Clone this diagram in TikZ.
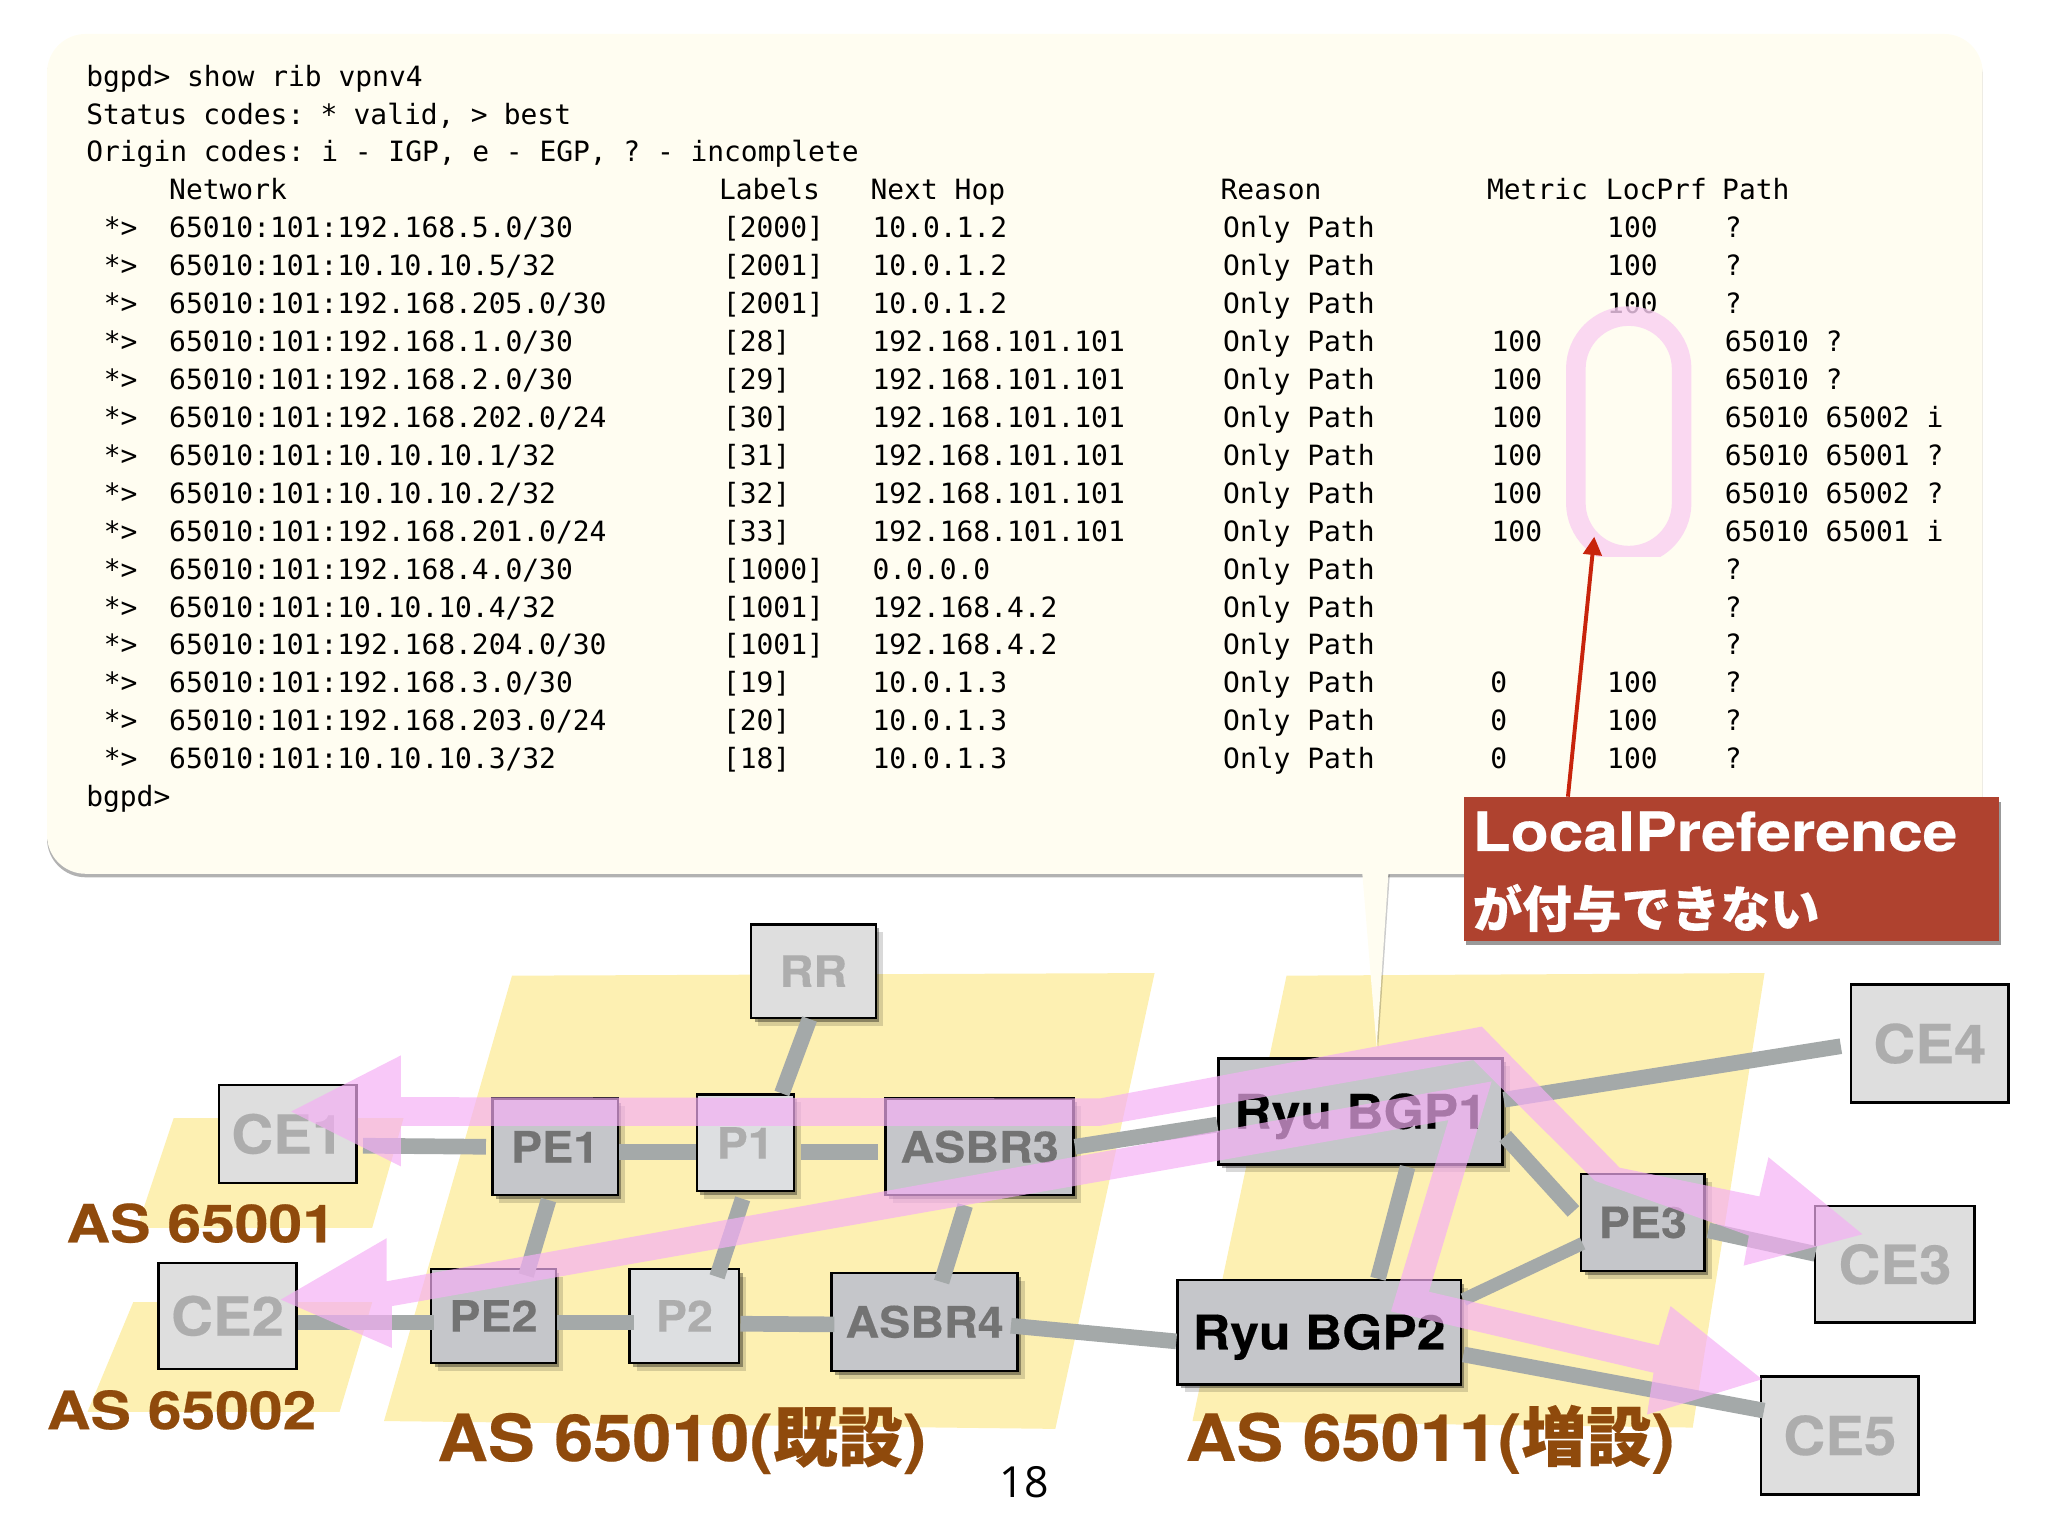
\documentclass[tikz,border=0pt]{standalone}
\usepackage{fontspec}
\usetikzlibrary{calc,shadows,arrows.meta}

\newfontfamily\termfont{DejaVu Sans Mono}
\newfontfamily\boxfont[FakeStretch=1.08,FakeBold=0.3]{TeX Gyre Heros}
\newfontfamily\asfont[FakeStretch=1.08,FakeBold=0.3]{TeX Gyre Heros}
\newfontfamily\notefont[FakeStretch=1.15,FakeBold=0.4]{TeX Gyre Heros}
\newfontfamily\cjkfont[FakeBold=0.3]{Noto Sans CJK JP}
\newfontfamily\pagefont{Open Sans}
\newcommand{\gu}{0.013061cm}

\definecolor{balloonfill}{HTML}{FFFDF1}
\definecolor{aszone}{HTML}{FDF0B2}
\definecolor{linkgrey}{HTML}{A4A9A9}
\definecolor{routerdark}{HTML}{C5C6CA}
\definecolor{routerlight}{HTML}{DDDFE1}
\definecolor{customerfill}{HTML}{DEDEDE}
\definecolor{flowpink}{HTML}{F5AFF5}
\definecolor{ringpink}{HTML}{F9CFF2}
\definecolor{asbrown}{HTML}{8F4A0C}
\definecolor{notered}{HTML}{AF422F}
\definecolor{arrowred}{HTML}{C8240C}

\tikzstyle{softshadow} = [drop shadow={shadow xshift=2pt, shadow yshift=-2.2pt, opacity=0.15, fill=black}, drop shadow={shadow xshift=1pt, shadow yshift=-1.1pt, opacity=0.35, fill=black}]
\tikzstyle{balloonshadow} = [drop shadow={shadow xshift=0pt, shadow yshift=-1pt, opacity=0.3, fill=black}]
\tikzstyle{router} = [rectangle, draw=black, line width=0.7pt, inner sep=0pt, fill=routerdark, text=black!55, softshadow, font=\boxfont\bfseries\fontsize{12.3}{14}\selectfont]
\tikzstyle{corelight} = [router, fill=routerlight, text=black!32]
\tikzstyle{ryu} = [router, text=black, text height=9.8pt, text depth=0pt, font=\boxfont\bfseries\fontsize{13.6}{16}\selectfont]
\tikzstyle{customer} = [rectangle, draw=black, line width=0.7pt, inner sep=0pt, fill=customerfill, text=black!32, font=\boxfont\bfseries\fontsize{15.3}{17}\selectfont]
\tikzstyle{netlink} = [linkgrey, line width=12*\gu]
\tikzstyle{zone} = [fill=aszone, draw=none]
\tikzstyle{flow} = [fill=flowpink, fill opacity=0.685, draw=none]
\tikzstyle{termline} = [anchor=base west, inner sep=0pt, font=\termfont\fontsize{7.95}{10}\selectfont]
\tikzstyle{aslabel} = [inner sep=0pt, text=asbrown, font=\notefont\bfseries\fontsize{15}{17}\selectfont]
\tikzstyle{aslarge} = [aslabel, font=\asfont\bfseries\fontsize{18.5}{20}\selectfont]
\tikzstyle{noteline} = [anchor=base west, inner sep=0pt, text=white]
\tikzset{boxsize/.style n args={2}{minimum width=#1*\gu, minimum height=#2*\gu}}

\begin{document}
\begin{tikzpicture}[x=\gu, y=-\gu]
        \useasboundingbox (0,0) rectangle (1568,1176);

        % AS areas
        \fill[zone] (133,856) -- (309,856) -- (285,940) -- (105,940) -- cycle;
        \fill[zone] (102,997) -- (285,997) -- (260,1081) -- (67,1081) -- cycle;
        \fill[zone] (392,747) -- (884,745) -- (808,1094) -- (294,1088) -- cycle;
        \fill[zone] (985,747) -- (1351,745) -- (1296,1093) -- (913,1088) -- cycle;

        % Speech balloon with the rib output
        \node (balloon) at (777,347.5) [rectangle, rounded corners=11pt, fill=balloonfill, balloonshadow, boxsize={1482}{643}] {};
        \coordinate (tailtip) at (1054,802);
        \fill[balloonfill, drop shadow={shadow xshift=0.4pt, shadow yshift=-0.4pt, opacity=0.2, fill=black}] ($(balloon.south)+(266,-1)$) -- (tailtip) -- ($(balloon.south)+(286,-1)$) -- cycle;

        \node (prompttop) at (65.5,66) [termline] {bgpd> show rib vpnv4};
        \node (statusline) at (65.5,95) [termline] {\frenchspacing\spaceskip=4.62pt Status codes: * valid, > best};
        \node (originline) at (65.5,124) [termline] {\frenchspacing\spaceskip=4.75pt Origin codes: i - IGP, e - EGP, ? - incomplete};
        \node (headnet) at (129,153) [termline] {Network};
        \node (headlabel) at (550,153) [termline] {Labels};
        \node (headhop) at (666,153) [termline] {Next Hop};
        \node (headreason) at (934,153) [termline] {Reason};
        \node (headmetric) at (1138,153) [termline] {Metric};
        \node (headpref) at (1229,153) [termline] {LocPrf};
        \node (headpath) at (1318,153) [termline] {Path};
        \foreach \i/\net/\lab/\hop/\pth in {
                4/{65010:101:192.168.5.0/30}/{[2000]}/10.0.1.2/?,
                5/{65010:101:10.10.10.5/32}/{[2001]}/10.0.1.2/?,
                6/{65010:101:192.168.205.0/30}/{[2001]}/10.0.1.2/?,
                7/{65010:101:192.168.1.0/30}/{[28]}/192.168.101.101/65010 ?,
                8/{65010:101:192.168.2.0/30}/{[29]}/192.168.101.101/65010 ?,
                9/{65010:101:192.168.202.0/24}/{[30]}/192.168.101.101/65010 65002 i,
                10/{65010:101:10.10.10.1/32}/{[31]}/192.168.101.101/65010 65001 ?,
                11/{65010:101:10.10.10.2/32}/{[32]}/192.168.101.101/65010 65002 ?,
                12/{65010:101:192.168.201.0/24}/{[33]}/192.168.101.101/65010 65001 i,
                13/{65010:101:192.168.4.0/30}/{[1000]}/0.0.0.0/?,
                14/{65010:101:10.10.10.4/32}/{[1001]}/192.168.4.2/?,
                15/{65010:101:192.168.204.0/30}/{[1001]}/192.168.4.2/?,
                16/{65010:101:192.168.3.0/30}/{[19]}/10.0.1.3/?,
                17/{65010:101:192.168.203.0/24}/{[20]}/10.0.1.3/?,
                18/{65010:101:10.10.10.3/32}/{[18]}/10.0.1.3/?} {
                \node (flag\i) at (79,{66+29.03*\i}) [termline] {*>};
                \node (net\i) at (129,{66+29.03*\i}) [termline] {\net};
                \node (lab\i) at (553,{66+29.03*\i}) [termline] {\lab};
                \node (hop\i) at (667.5,{66+29.03*\i}) [termline] {\hop};
                \node (why\i) at (936,{66+29.03*\i}) [termline] {Only Path};
                \node (path\i) at (1320,{66+29.03*\i}) [termline] {\pth};
        }
        \foreach \i in {7,...,12} {
                \node (metric\i) at (1141.5,{66+29.03*\i}) [termline] {100};
        }
        \foreach \i in {16,17,18} {
                \node (metric\i) at (1140.5,{66+29.03*\i}) [termline] {0};
        }
        \foreach \i in {4,5,6,16,17,18} {
                \node (pref\i) at (1230,{66+29.03*\i}) [termline] {100};
        }
        \node (promptend) at (65.5,617.5) [termline] {bgpd>};

        % Routers
        \node (rr) at (622.8,743.5) [corelight, fill=customerfill, boxsize={95.6}{71.5}] {RR};
        \node (pe1) at (425,878) [router, boxsize={96}{73.7}] {PE1};
        \node (p1) at (570.6,875) [corelight, boxsize={74.2}{73.8}] {P1};
        \node (asbr3) at (750,878) [router, boxsize={144}{74}] {ASBR3};
        \node (pe2) at (377.8,1007.5) [router, boxsize={95.5}{72}] {PE2};
        \node (p2) at (524,1007.5) [corelight, boxsize={84}{72}] {P2};
        \node (asbr4) at (707.9,1012) [router, boxsize={142.3}{75}] {ASBR4};
        \node (pe3) at (1257.8,936) [router, boxsize={94.4}{74}] {PE3};
        \node (bgp1) at (1041.7,851) [ryu, boxsize={217.4}{81}] {Ryu BGP1};
        \node (bgp2) at (1010,1020) [ryu, boxsize={217}{80}] {Ryu BGP2};
        \node (ce1) at (220.3,868.2) [customer, boxsize={105.4}{75}] {CE1};
        \node (ce2) at (174.2,1007.5) [customer, boxsize={105.6}{81}] {CE2};
        \node (ce3) at (1450.8,968) [customer, boxsize={122}{89}] {CE3};
        \node (ce4) at (1477.5,799) [customer, boxsize={120.3}{90.5}] {CE4};
        \node (ce5) at (1408.6,1099) [customer, boxsize={120.3}{90.5}] {CE5};

        % Links
        \draw[netlink] ($(rr.south)+(-3,0)$) -- ($(p1.north)+(28,0)$);
        \draw[netlink] ($(ce1.east)+(4,9)$) -- ($(pe1.west)+(-4,0)$);
        \draw[netlink] ($(pe1.east)+(0,4)$) -- ($(p1.west)+(0,7)$);
        \draw[netlink] ($(p1.east)+(5,7)$) -- ($(asbr3.west)+(-5,4)$);
        \draw[netlink] ($(pe1.south)+(-5,3)$) -- ($(pe2.north)+(25,6)$);
        \draw[netlink] ($(p1.south)+(-2,5)$) -- ($(p2.north)+(25,7)$);
        \draw[netlink] ($(asbr3.south)+(-11,7)$) -- ($(asbr4.north)+(13,8)$);
        \draw[netlink] ($(ce2.east)+(0,5)$) -- ($(pe2.west)+(3,5)$);
        \draw[netlink] ($(pe2.east)+(0,5)$) -- ($(p2.west)+(4,5)$);
        \draw[netlink] ($(p2.east)+(0,6)$) -- ($(asbr4.west)+(3,2)$);
        \draw[netlink] ($(asbr4.east)+(-6,3)$) -- ($(bgp2.west)+(0,7)$);
        \draw[netlink] (asbr3.east) -- ($(bgp1.west)+(0,10)$);
        \draw[netlink] ($(bgp1.east)+(0,-9)$) -- ($(ce4.west)+(-7,2)$);
        \draw[netlink] ($(bgp1.east)+(1,19)$) -- ($(pe3.west)+(-5,-8.5)$);
        \draw[netlink] ($(bgp1.south)+(36,1)$) -- ($(bgp2.north)+(45,0)$);
        \draw[netlink, line width=10*\gu] ($(bgp2.east)+(1,-25)$) -- ($(pe3.west)+(2,16)$);
        \draw[netlink] ($(pe3.east)+(2,6)$) -- ($(ce3.west)+(1,-8)$);
        \draw[netlink] ($(bgp2.east)+(1,17)$) -- ($(ce5.west)+(3,-19)$);

        % AS names
        \node (as1) at (154,936.5) [aslabel] {AS 65001};
        \node (as2) at (139,1079.5) [aslabel] {AS 65002};
        \node (as10) at (522,1103) [aslarge] {AS 65010({\cjkfont\bfseries 既設})};
        \node (as11) at (1095,1102) [aslarge] {AS 65011({\cjkfont\bfseries 増設})};

        % Route flows
        \fill[flow] (223,851) -- (307,808) -- (307,840) -- (842,841) -- (1134.5,786) -- (1240,894) -- (1347,916)
                -- (1354,886) -- (1426,945) -- (1335,969) -- (1339,946) -- (1221,904) -- (1128,811.6)
                -- (842,862) -- (307,862) -- (307,893) -- cycle;
        \fill[flow] (215,995) -- (296,948) -- (296,981) -- (1142,828) -- (1094,989) -- (1270,1030)
                -- (1279,1000) -- (1349,1056) -- (1261,1083) -- (1266,1051) -- (1065,1004) -- (1109,857.6)
                -- (300,1000) -- (300,1032) -- cycle;

        % LocPrf ring and the note
        \begin{scope}
                \clip (1150,200) rectangle (1350,425.7);
                \node (ring) at (1247,333.7) [rectangle, rounded corners=15pt, draw=ringpink, draw opacity=0.8, line width=15*\gu, boxsize={81}{183.4}] {};
        \end{scope}
        \node (prefnote) at (1325.5,665.5) [rectangle, fill=notered, drop shadow={shadow xshift=0.6pt, shadow yshift=-1.2pt, opacity=0.4, fill=black}, boxsize={410}{110}] {};
        \node (prefline) at (1127,651.5) [noteline, font=\notefont\bfseries\fontsize{15.4}{17}\selectfont] {LocalPreference};
        \node (prefline2) at (1127,710) [noteline, font=\cjkfont\bfseries\fontsize{14.1}{17}\selectfont] {が付与できない};
        \draw[arrowred, line width=3*\gu, -{Triangle[length=14*\gu, width=14*\gu]}] ($(prefnote.north west)+(80.5,0)$) -- ($(ring.south)+(-26.4,-22)$);

        \node (pagenum) at (784,1135) [inner sep=0pt, font=\pagefont\fontsize{12.2}{14}\selectfont] {18};
\end{tikzpicture}
\end{document}
